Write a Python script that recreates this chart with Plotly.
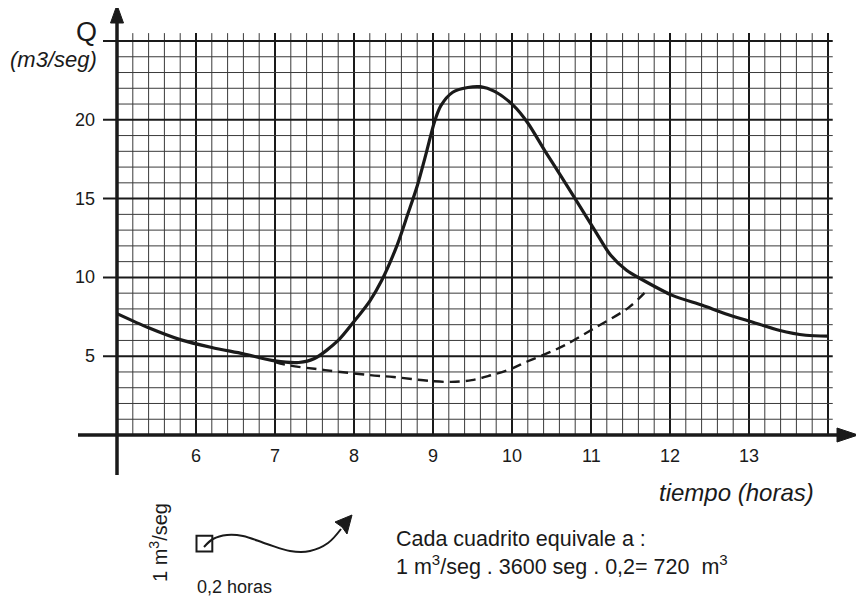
import numpy as np
import plotly.graph_objects as go

# ---------------- data ----------------
t_solid = [5.0, 5.4, 5.8, 6.2, 6.6, 7.0, 7.3, 7.5, 7.8, 8.0, 8.2, 8.35, 8.55, 8.68, 8.8,
           8.92, 9.02, 9.1, 9.25, 9.44, 9.6, 9.78, 10.02, 10.2, 10.42, 10.63, 10.84, 11.05,
           11.25, 11.45, 11.65, 12.03, 12.41, 12.7, 13.04, 13.38, 13.72, 14.0]
q_solid = [7.7, 6.8, 6.05, 5.55, 5.15, 4.7, 4.6, 4.85, 6.0, 7.2, 8.5, 9.8, 12.1, 14.0, 15.8,
           18.0, 19.9, 20.9, 21.75, 22.05, 22.1, 21.8, 20.9, 19.8, 18.0, 16.35, 14.66, 12.97,
           11.4, 10.45, 9.85, 8.86, 8.23, 7.7, 7.17, 6.65, 6.33, 6.27]

t_base = [7.0, 7.16, 7.5, 7.83, 8.2, 8.5, 8.98, 9.23, 9.49, 9.74, 9.97, 10.2, 10.42,
          10.67, 11.05, 11.48, 11.73]
q_base = [4.62, 4.43, 4.2, 4.0, 3.8, 3.68, 3.42, 3.37, 3.48, 3.8, 4.16, 4.68, 5.13,
          5.7, 6.8, 8.1, 9.3]

x_ticks = [6, 7, 8, 9, 10, 11, 12, 13]
x_tick_labels = ["6", "7", "8", "9", "10", "11", "12", "13"]
y_ticks = [5, 10, 15, 20]
y_tick_labels = ["5", "10", "15", "20"]

# ---------------- geometry ----------------
X0, X1 = 5.0, 14.0          # grid extent in hours
Y1 = 25.0                   # grid top in m3/seg
PX_PER_X = 79.0
PX_PER_Y = 15.76
W, H = 864, 598
OFF = 8                     # page body margin of the html page
# page pixel P <-> figure pixel P-OFF
xr = [X0 + (OFF - 117) / PX_PER_X, X0 + (W + OFF - 117) / PX_PER_X]
yr = [-(H + OFF - 435) / PX_PER_Y, (435 - OFF) / PX_PER_Y]

FONT = "Liberation Sans, Arial, sans-serif"
INK = "#1a1a1a"


def px2x(p):
    return X0 + (p - 117) / PX_PER_X


def py2y(p):
    return -(p - 435) / PX_PER_Y


fig = go.Figure()
shapes = []


def line(x0, y0, x1, y1, w, c=INK):
    shapes.append(dict(type="line", x0=x0, y0=y0, x1=x1, y1=y1, xref="x", yref="y",
                       line=dict(color=c, width=w), layer="below"))


# vertical grid (every 0.2 h, thicker each hour)
for xv in np.round(np.arange(X0 + 0.2, X1 + 0.01, 0.2), 2):
    major = abs(xv - round(xv)) < 1e-6
    line(xv, 0, xv, Y1 + 0.5, 2 if major else 1, INK if major else "#3a3a3a")
# horizontal grid (every 1, thicker each 5)
for yv in range(1, 26):
    if yv % 5 == 0:
        line(px2x(103), yv, X1 + 0.06, yv, 2, INK)
    else:
        line(X0, yv, X1 + 0.06, yv, 1, "#3a3a3a")

# axes
line(px2x(78), 0, px2x(840), 0, 3.5, INK)
line(X0, py2y(475), X0, py2y(20), 3.5, INK)

# arrowheads
hh = 7 / PX_PER_Y
shapes.append(dict(type="path", xref="x", yref="y",
                   path=f"M {px2x(837)},{hh} L {px2x(858)},0 L {px2x(837)},{-hh} Z",
                   fillcolor=INK, line=dict(color=INK, width=1)))
hw = 6.5 / PX_PER_X
shapes.append(dict(type="path", xref="x", yref="y",
                   path=f"M {X0 - hw},{py2y(23)} L {X0},{py2y(5)} L {X0 + hw},{py2y(23)} Z",
                   fillcolor=INK, line=dict(color=INK, width=1)))

# small square = one grid cell (0.2 h x 1 m3/seg)
sq_x0 = px2x(196.5)
sq_y0 = py2y(551.5)
shapes.append(dict(type="rect", xref="x", yref="y", x0=sq_x0, y0=sq_y0,
                   x1=sq_x0 + 0.2, y1=sq_y0 + 1, line=dict(color=INK, width=2)))

# curvy arrow
wave_px = [(204, 547), (213, 539), (227, 535), (243, 536), (267, 544), (290, 551),
           (310, 551), (328, 543), (341, 529)]
fig.add_trace(go.Scatter(x=[px2x(a) for a, b in wave_px], y=[py2y(b) for a, b in wave_px],
                         mode="lines", line=dict(color=INK, width=2, shape="spline"),
                         hoverinfo="skip", showlegend=False))
shapes.append(dict(type="path", xref="x", yref="y",
                   path=f"M {px2x(352)},{py2y(515)} L {px2x(335)},{py2y(522)} "
                        f"L {px2x(342)},{py2y(527)} L {px2x(347)},{py2y(534)} Z",
                   fillcolor=INK, line=dict(color=INK, width=1)))

# data curves
fig.add_trace(go.Scatter(x=t_base, y=q_base, mode="lines",
                         line=dict(color=INK, width=2.4, dash="10px,6px", shape="spline"),
                         showlegend=False))
fig.add_trace(go.Scatter(x=t_solid, y=q_solid, mode="lines",
                         line=dict(color=INK, width=3.2, shape="spline", smoothing=0.8),
                         showlegend=False))

ann = []
for xv, lab in zip(x_ticks, x_tick_labels):
    ann.append(dict(x=xv, y=py2y(456), text=lab, showarrow=False,
                    font=dict(size=18, family=FONT, color=INK)))
for yv, lab in zip(y_ticks, y_tick_labels):
    ann.append(dict(x=px2x(97), y=yv, text=lab, showarrow=False, xanchor="right",
                    font=dict(size=18, family=FONT, color=INK)))

ann += [
    dict(x=px2x(99), y=py2y(32), text="Q", showarrow=False, xanchor="right",
         font=dict(size=27, family=FONT, color=INK)),
    dict(x=px2x(99), y=py2y(59), text="<i>(m3/seg)</i>", showarrow=False, xanchor="right",
         font=dict(size=22, family=FONT, color=INK)),
    dict(x=px2x(816), y=py2y(492), text="<i>tiempo (horas)</i>", showarrow=False,
         xanchor="right", font=dict(size=24, family=FONT, color=INK)),
    dict(x=px2x(158), y=py2y(543), text="1 m<sup>3</sup>/seg", showarrow=False, textangle=-90,
         font=dict(size=20, family=FONT, color=INK)),
    dict(x=px2x(195), y=py2y(587), text="0,2 horas", showarrow=False, xanchor="left",
         font=dict(size=18, family=FONT, color=INK)),
    dict(x=px2x(395), y=py2y(539), text="Cada cuadrito equivale a :", showarrow=False,
         xanchor="left", borderpad=0, font=dict(size=21.5, family=FONT, color=INK)),
    dict(x=px2x(395), y=py2y(565), text="1 m<sup>3</sup>/seg . 3600 seg . 0,2= 720  m<sup>3</sup>",
         showarrow=False, xanchor="left", borderpad=0,
         font=dict(size=21.5, family=FONT, color=INK)),
]

fig.update_layout(
    width=W, height=H, margin=dict(l=0, r=0, t=0, b=0),
    paper_bgcolor="white", plot_bgcolor="white",
    xaxis=dict(range=xr, visible=False, fixedrange=True),
    yaxis=dict(range=yr, visible=False, fixedrange=True),
    shapes=shapes, annotations=ann, showlegend=False,
)
fig.write_html("out.html")
